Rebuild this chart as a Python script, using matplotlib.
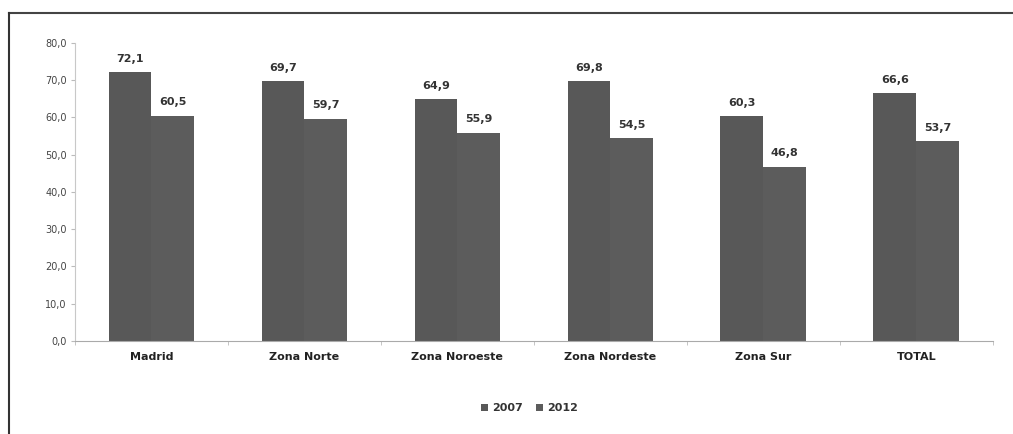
import matplotlib.pyplot as plt
import numpy as np
from matplotlib.lines import Line2D

# data
zonas = ['Madrid', 'Zona Norte', 'Zona Noroeste', 'Zona Nordeste', 'Zona Sur', 'TOTAL']
valores_2007 = [72.1, 69.7, 64.9, 69.8, 60.3, 66.6]
valores_2012 = [60.5, 59.7, 55.9, 54.5, 46.8, 53.7]
y_ticks = [0, 10, 20, 30, 40, 50, 60, 70, 80]

def coma(v):
    return '{0:.1f}'.format(v).replace('.', ',')

fig = plt.figure(figsize=(10.13, 4.34), dpi=100)
ax = fig.add_axes([0.074, 0.2143, 0.906, 0.6867])

ind = np.arange(len(zonas))
width = 0.28
b1 = ax.bar(ind - width / 2, valores_2007, width, color='#585858', label='2007')
b2 = ax.bar(ind + width / 2, valores_2012, width, color='#5c5c5c', label='2012')

for barras, vals in [(b1, valores_2007), (b2, valores_2012)]:
    for b, v in zip(barras, vals):
        ax.annotate(coma(v), (b.get_x() + b.get_width() / 2, v),
                    xytext=(0, 6), textcoords='offset points',
                    ha='center', va='bottom', fontsize=8, fontweight='bold',
                    color='#333333')

ax.set_xlim(-0.5, len(zonas) - 0.5)
ax.set_ylim(0, 80)
ax.set_yticks(y_ticks)
ax.set_yticklabels([coma(t) for t in y_ticks], fontsize=7, color='#444444')
ax.set_xticks(ind)
ax.set_xticklabels(zonas, fontsize=8, fontweight='bold', color='#222222')
ax.tick_params(axis='x', length=0, pad=8)
ax.tick_params(axis='y', length=3, color='#bbbbbb', pad=3)
# small marks between the groups
ax.set_xticks(np.arange(len(zonas) + 1) - 0.5, minor=True)
ax.tick_params(axis='x', which='minor', length=3, color='#bbbbbb')

for s in ['top', 'right']:
    ax.spines[s].set_visible(False)
ax.spines['left'].set_color('#c8c8c8')
ax.spines['bottom'].set_color('#aaaaaa')

leg = fig.legend(handles=[b1, b2], loc='center', bbox_to_anchor=(0.523, 0.06),
                 ncol=2, frameon=False, fontsize=8, handlelength=0.6,
                 handleheight=0.6, handletextpad=0.4, columnspacing=1.2)
for t in leg.get_texts():
    t.set_fontweight('bold')
    t.set_color('#333333')

# frame lines on top and left
fig.add_artist(Line2D([9 / 1013, 1], [1 - 13 / 434, 1 - 13 / 434],
                      transform=fig.transFigure, color='#444444', lw=1.5))
fig.add_artist(Line2D([9 / 1013, 9 / 1013], [0, 1 - 13 / 434],
                      transform=fig.transFigure, color='#333333', lw=1.5))

fig.savefig('out.png', dpi=100)
